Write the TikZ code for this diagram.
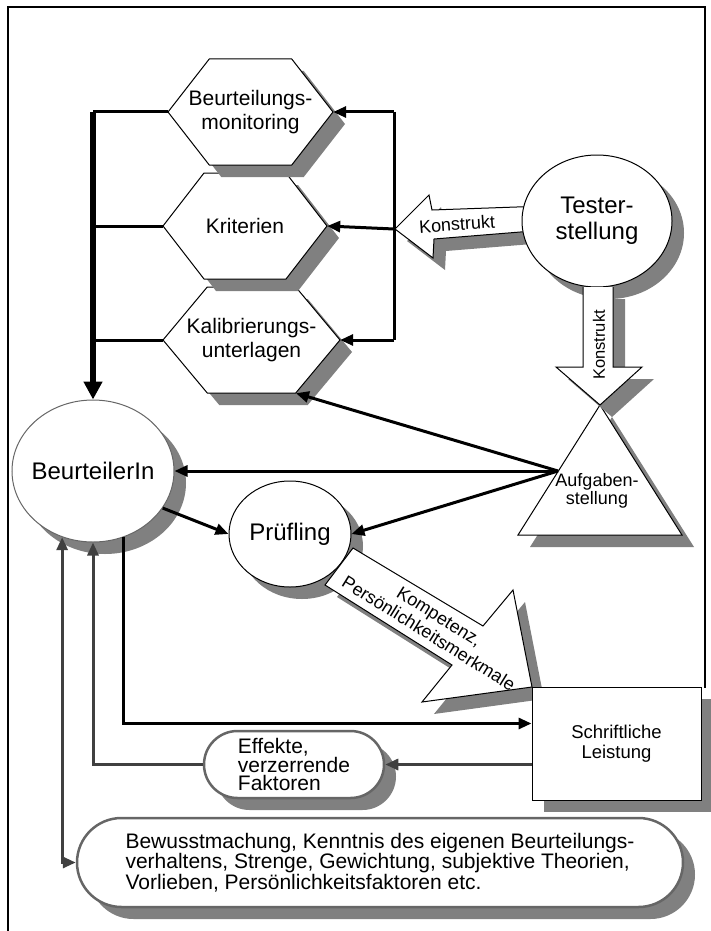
\documentclass[tikz,border=0pt]{standalone}
\usepackage{fontspec}
\setmainfont{Liberation Sans}
\usetikzlibrary{arrows.meta,shapes.geometric,shapes.misc,shadows}

\definecolor{shadowgrey}{HTML}{808080}
\definecolor{darkline}{HTML}{404040}
\definecolor{rimgrey}{HTML}{666666}

\tikzset{
  boxshadow/.style={drop shadow={shadow xshift=12pt,shadow yshift=-12pt,fill=shadowgrey,opacity=1}},
  bigtext/.style={font=\fontsize{24}{26}\selectfont},
  midtext/.style={font=\fontsize{21}{23.3}\selectfont},
  smalltext/.style={font=\fontsize{18}{20}\selectfont},
  hexlabel/.style={minimum height=106,inner sep=0pt,align=center,midtext},
  oval/.style={ellipse,draw,line width=1pt,fill=white,boxshadow,inner sep=0pt,align=center,bigtext},
  pill/.style={rounded rectangle,draw=rimgrey,line width=2.5pt,fill=white,boxshadow,align=left,midtext},
  conn/.style={line width=3pt},
  greyconn/.style={line width=3pt,darkline},
}

\begin{document}
\begin{tikzpicture}[x=1pt, y=-1pt, >={Triangle[length=13pt,width=11pt]}]
  \useasboundingbox (0,0) rectangle (710,931);
  \draw[line width=2pt] (8,931) -- (8,7) -- (705,7) -- (705,688);

  % hexagons, lowest first so the upper shadow lies on top
  \foreach \n/\x/\y/\w/\t in {kal/251.5/340/177/{Kalibrierungs-\\unterlagen},
                              krit/245/226/164/{Kriterien},
                              mon/250.5/112/165/{Beurteilungs-\\monitoring}} {
    \filldraw[fill=white, line width=1pt, boxshadow, shift={(\x,\y)}]
      ({-\w/2},0) -- ({-\w/4},-53) -- ({\w/4},-53) -- ({\w/2},0)
      -- ({\w/4},53) -- ({-\w/4},53) -- cycle;
    \node[hexlabel, minimum width=\w] (\n) at (\x,\y) {\t};
  }

  % Konstrukt to the left
  \filldraw[fill=white, line width=1pt, boxshadow]
    (545,206) -- (432,210) -- (429,195) -- (395,229) -- (433,258) -- (434,239) -- (545,230) -- cycle;
  \node[smalltext, rotate=4] (kon1) at (457,224) {Konstrukt};

  \node[oval, minimum width=150, minimum height=132] (test) at (597,221) {Tester-\\stellung};

  % Aufgabenstellung
  \filldraw[fill=white, line width=1pt, boxshadow] (600,405) -- (682,535) -- (518,535) -- cycle;
  \node[smalltext, align=center, font=\fontsize{18}{18.3}\selectfont] (aufg) at (597,491) {Aufgaben-\\stellung};

  % Konstrukt downwards
  \fill[white, boxshadow]
    (583,287) -- (583,367) -- (556,367) -- (600,405) -- (642,367) -- (613,367) -- (613,287) -- cycle;
  \draw[line width=1pt]
    (583,287) -- (583,367) -- (556,367) -- (600,405) -- (642,367) -- (613,367) -- (613,287);
  \node[font=\fontsize{16.5}{18}\selectfont, rotate=90] (kon2) at (599,345) {Konstrukt};

  \node[oval, draw=rimgrey, minimum width=162, minimum height=142, inner xsep=-15pt] (bt) at (93,471) {BeurteilerIn};
  \node[oval, minimum width=122, minimum height=106] (pr) at (290,534) {Prüfling};

  % Kompetenz arrow
  \filldraw[fill=white, line width=1pt, boxshadow]
    (353,548) -- (483,626) -- (513,590) -- (532,687) -- (422,702) -- (452,665) -- (325,585) -- cycle;
  \node[smalltext, rotate=-32, align=center] (komp) at (434,625) {Kompetenz,\\Persönlichkeitsmerkmale};

  \node[draw, line width=1pt, fill=white, boxshadow, minimum width=169, minimum height=113,
        align=center, font=\fontsize{18.5}{20}\selectfont] (sch) at (616.5,743.5) {Schriftliche\\Leistung};
  \node[pill, minimum width=176, minimum height=67, inner xsep=-2pt,
        font=\fontsize{21}{18.3}\selectfont] (eff) at (294,764.5) {Effekte,\\verzerrende\\Faktoren};
  \node[pill, minimum width=564, minimum height=89, inner xsep=-21pt,
        font=\fontsize{21}{18.3}\selectfont] (bew) at (380,862.5)
    {Bewusstmachung, Kenntnis des eigenen Beurteilungs-\\verhaltens, Strenge, Gewichtung, subjektive Theorien,\\Vorlieben, Persönlichkeitsfaktoren etc.};

  % left bus
  \draw[line width=6pt, -{Triangle[length=18pt,width=18pt]}] (mon.west -| bt.north) -- (bt.north);
  \foreach \n in {mon,krit,kal}
    \draw[conn] (\n.west) -- (\n.west -| bt.north);

  % right bus
  \coordinate (kontip) at (394,229);
  \draw[conn] (kontip |- mon.east) -- (kontip |- kal.east);
  \draw[conn,->] (kontip |- mon.east) -- (mon.east);
  \draw[conn,->] (kontip) -- (krit.east);
  \draw[conn,->] (kontip |- kal.east) -- (kal.east);

  \coordinate (aufgL) at (558,471);
  \draw[conn,->] (aufgL) -- ([xshift=-44.25pt]kal.south east);
  \draw[conn,->] (aufgL) -- (bt.east);
  \draw[conn,->] (aufgL) -- (pr.east);
  \draw[conn,->] (bt.-28) -- (pr.west);

  \draw[conn,->] (bt.295) |- ([yshift=20pt]sch.west);
  \draw[greyconn,->] (sch.west |- eff.east) -- (eff.east);
  \draw[greyconn,->] (eff.west) -| (bt.south);
  \draw[greyconn,<->] (bt.245) |- (bew.west);
\end{tikzpicture}
\end{document}
